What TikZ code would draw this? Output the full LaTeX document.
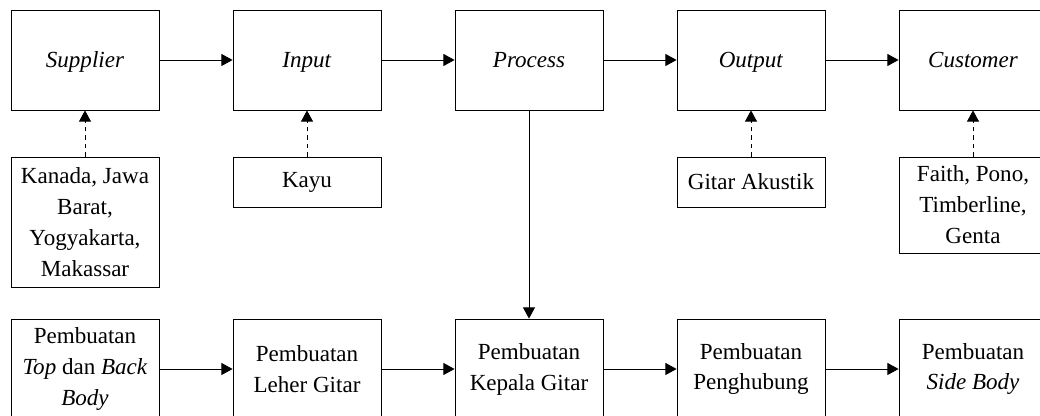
\documentclass[tikz,border=0pt]{standalone}
\usepackage{fontspec}
\setmainfont{Liberation Serif}
\usepackage{tikz}
\usetikzlibrary{arrows.meta,positioning}

\begin{document}
\begin{tikzpicture}[>={Triangle[length=2.8mm,width=3mm]}, line width=0.6pt,
  blk/.style={draw, minimum width=37mm, minimum height=25mm, align=center,
              font=\fontsize{16.4}{22}\selectfont, inner sep=1pt},
  main/.style={blk, text height=3ex, text depth=0.6ex},
  src/.style={blk, minimum height=12.5mm}]
  \clip (0,0) rectangle (26,10.4);
  % main chain
  \node[main] (sup) at (2.125,8.9) {\textit{Supplier}};
  \node[main] (inp) at (7.675,8.9) {\textit{Input}};
  \node[main] (pro) at (13.225,8.9) {\textit{Process}};
  \node[main] (out) at (18.775,8.9) {\textit{Output}};
  \node[main] (cus) at (24.325,8.9) {\textit{Customer}};
  \draw[->] (sup) -- (inp);
  \draw[->] (inp) -- (pro);
  \draw[->] (pro) -- (out);
  \draw[->] (out) -- (cus);
  % sources below the chain
  \node[src, minimum height=32.5mm] (asal) at (2.125,4.85) {Kanada, Jawa\\Barat,\\Yogyakarta,\\Makassar};
  \node[src] (kayu) at (7.675,5.85) {Kayu};
  \node[src] (gitar) at (18.775,5.85) {Gitar Akustik};
  \node[src, minimum height=24mm] (toko) at (24.325,5.275) {Faith, Pono,\\Timberline,\\Genta};
  \draw[->, dashed] (asal) -- (sup);
  \draw[->, dashed] (kayu) -- (inp);
  \draw[->, dashed] (gitar) -- (out);
  \draw[->, dashed] (toko) -- (cus);
  % process steps
  \node[blk] (top) at (2.125,1.175) {Pembuatan\\\textit{Top} dan \textit{Back}\\\textit{Body}};
  \node[blk] (leher) at (7.675,1.175) {Pembuatan\\Leher Gitar};
  \node[blk] (kepala) at (13.225,1.175) {Pembuatan\\Kepala Gitar};
  \node[blk] (hub) at (18.775,1.175) {Pembuatan\\Penghubung};
  \node[blk] (side) at (24.325,1.175) {Pembuatan\\\textit{Side Body}};
  \draw[->] (top) -- (leher);
  \draw[->] (leher) -- (kepala);
  \draw[->] (kepala) -- (hub);
  \draw[->] (hub) -- (side);
  \draw[->] (pro) -- (kepala);
\end{tikzpicture}
\end{document}
